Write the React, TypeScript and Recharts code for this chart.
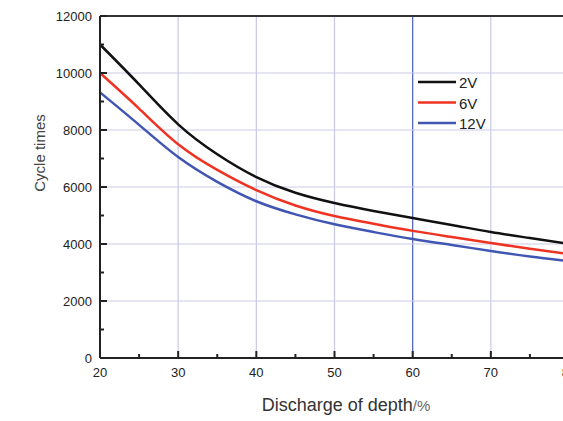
import { Line, LineChart, ReferenceLine, XAxis, YAxis } from "recharts";

const depth = [20, 25, 30, 35, 40, 45, 50, 55, 60, 65, 70, 75, 80];
const v2 = [11000, 9600, 8200, 7150, 6350, 5800, 5440, 5160, 4910, 4670, 4420, 4210, 4000];
const v6 = [10000, 8750, 7500, 6600, 5890, 5350, 4980, 4710, 4460, 4245, 4035, 3830, 3650];
const v12 = [9320, 8180, 7050, 6180, 5500, 5040, 4690, 4420, 4175, 3965, 3755, 3560, 3400];

const xTicks = [20, 25, 30, 35, 40, 45, 50, 55, 60, 65, 70, 75, 80];
const yTicks = [0, 1000, 2000, 3000, 4000, 5000, 6000, 7000, 8000, 9000, 10000, 11000, 12000];
const xGrid = [30, 40, 50, 70];
const yGrid = [2000, 4000, 6000, 8000, 10000];

const series = [
  { key: "v2", name: "2V", color: "#111111" },
  { key: "v6", name: "6V", color: "#ee3322" },
  { key: "v12", name: "12V", color: "#4155b3" },
];

const data = depth.map((d, i) => ({ depth: d, v2: v2[i], v6: v6[i], v12: v12[i] }));

const font = "'Liberation Sans', Arial, sans-serif";

function XTick({ x, y, payload }: any) {
  const major = payload.value % 10 === 0;
  return (
    <g>
      <line x1={x} y1={y} x2={x} y2={y - (major ? 7 : 4)} stroke="#222" strokeWidth={2} />
      {major && (
        <text x={x} y={y + 19} textAnchor="middle" fontSize={13} fill="#222" fontFamily={font}>
          {payload.value}
        </text>
      )}
    </g>
  );
}

function YTick({ x, y, payload }: any) {
  const major = payload.value % 2000 === 0;
  return (
    <g>
      <line x1={x} y1={y} x2={x + (major ? 7 : 4)} y2={y} stroke="#222" strokeWidth={2} />
      {major && (
        <text x={x - 8} y={y + 4.5} textAnchor="end" fontSize={13} fill="#222" fontFamily={font}>
          {payload.value}
        </text>
      )}
    </g>
  );
}

function LegendBox() {
  return (
    <svg width={80} height={60} style={{ position: "absolute", left: 418, top: 74 }}>
      {series.map((s, i) => (
        <g key={s.key}>
          <line x1={0} x2={38} y1={8 + i * 20.5} y2={8 + i * 20.5} stroke={s.color} strokeWidth={2.5} />
          <text x={41} y={14 + i * 20.5} fontSize={15} fill="#222" fontFamily={font}>
            {s.name}
          </text>
        </g>
      ))}
    </svg>
  );
}

export default function App() {
  return (
    <div
      style={{
        position: "absolute",
        left: 0,
        top: 0,
        width: 563,
        height: 421,
        overflow: "hidden",
        background: "#fff",
      }}
    >
      <LineChart
        width={620}
        height={421}
        data={data}
        margin={{ top: 16, right: 51, bottom: 33, left: 40 }}
      >
        {xGrid.map((v) => (
          <ReferenceLine key={"x" + v} x={v} stroke="#c9c9e6" strokeWidth={1.2} />
        ))}
        <ReferenceLine x={60} stroke="#5868bb" strokeWidth={1.3} />
        {yGrid.map((v) => (
          <ReferenceLine key={"y" + v} y={v} stroke="#c9c9e6" strokeWidth={1.2} />
        ))}
        <ReferenceLine y={12000} stroke="#333" strokeWidth={2} />
        <XAxis
          dataKey="depth"
          type="number"
          domain={[20, 80]}
          ticks={xTicks}
          interval={0}
          tickSize={0}
          tickMargin={0}
          tick={<XTick />}
          axisLine={{ stroke: "#222", strokeWidth: 2 }}
          height={30}
          label={{
            content: () => (
              <text x={346} y={411} textAnchor="middle" fontFamily={font} fill="#333">
                <tspan fontSize={18}>Discharge of depth</tspan>
                <tspan fontSize={15} fill="#666">/%</tspan>
              </text>
            ),
          }}
        />
        <YAxis
          type="number"
          domain={[0, 12000]}
          ticks={yTicks}
          interval={0}
          tickSize={0}
          tickMargin={0}
          tick={<YTick />}
          axisLine={{ stroke: "#222", strokeWidth: 2 }}
          width={60}
          label={{
            content: () => (
              <text
                x={45}
                y={153}
                transform="rotate(-90 45 153)"
                textAnchor="middle"
                fontSize={15}
                fill="#444"
                fontFamily={font}
              >
                Cycle times
              </text>
            ),
          }}
        />
        {series.map((s) => (
          <Line
            key={s.key}
            dataKey={s.key}
            name={s.name}
            type="natural"
            stroke={s.color}
            strokeWidth={2.5}
            dot={false}
            isAnimationActive={false}
          />
        ))}
      </LineChart>
      <LegendBox />
    </div>
  );
}
